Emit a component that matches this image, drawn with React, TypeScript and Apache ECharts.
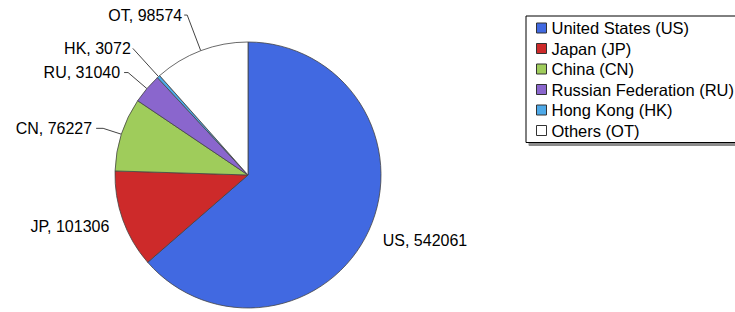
import React, { useEffect, useRef } from "react";
import * as echarts from "echarts";

const countryNames = [
  "United States (US)",
  "Japan (JP)",
  "China (CN)",
  "Russian Federation (RU)",
  "Hong Kong (HK)",
  "Others (OT)",
];
const countryCodes = ["US", "JP", "CN", "RU", "HK", "OT"];
const values = [542061, 101306, 76227, 31040, 3072, 98574];

const sliceColors = ["#4169e1", "#cd2a2a", "#9fcc5b", "#8a66cd", "#4ea9e8", "#ffffff"];

// label placement tweaks (style only): [lineLength, lineLength2, distance, showLine]
const labelTweaks: [number, number, number, boolean][] = [
  [25.6, 0, -9.6, false],
  [20.8, 0, -6.2, false],
  [19.2, 7, 4, true],
  [24.7, 4, 4, true],
  [38.2, 0, 2, true],
  [38.1, 3, 2, true],
];

const FONT = "'Liberation Sans', Arial, sans-serif";

export default function App() {
  const ref = useRef<HTMLDivElement>(null);
  useEffect(() => {
    if (!ref.current) return;
    const chart = echarts.init(ref.current, undefined, { renderer: "svg" });
    const data = values.map((v, i) => ({
      name: countryNames[i],
      value: v,
      itemStyle: { color: sliceColors[i] },
      label: { distanceToLabelLine: labelTweaks[i][2] },
      labelLine: {
        show: labelTweaks[i][3],
        length: labelTweaks[i][0],
        length2: labelTweaks[i][1],
      },
    }));
    chart.setOption({
      animation: false,
      backgroundColor: "#ffffff",
      legend: {
        orient: "vertical",
        left: 526,
        top: 16,
        icon: "rect",
        itemWidth: 10,
        itemHeight: 10,
        itemGap: 3.5,
        padding: [3.5, 40, 3.5, 10],
        backgroundColor: "#ffffff",
        borderColor: "#000000",
        borderWidth: 1,
        shadowColor: "rgba(0,0,0,0.45)",
        shadowBlur: 1,
        shadowOffsetX: 3,
        shadowOffsetY: 3,
        itemStyle: { borderColor: "#333333", borderWidth: 1 },
        textStyle: { fontFamily: FONT, fontSize: 16.5, color: "#000000" },
        data: countryNames,
      },
      series: [
        {
          type: "pie",
          center: [248, 175],
          radius: 133,
          startAngle: 90,
          clockwise: true,
          avoidLabelOverlap: false,
          itemStyle: { borderColor: "#444444", borderWidth: 0.8 },
          label: {
            show: true,
            position: "outside",
            fontFamily: FONT,
            fontSize: 16,
            color: "#000000",
            formatter: (p: any) => `${countryCodes[p.dataIndex]}, ${p.value}`,
          },
          labelLine: {
            lineStyle: { color: "#444444", width: 1 },
          },
          emphasis: { disabled: true },
          data,
        },
      ],
    });
    return () => chart.dispose();
  }, []);
  return (
    <div
      ref={ref}
      style={{ position: "fixed", left: 0, top: 0, width: 735, height: 312 }}
    />
  );
}
